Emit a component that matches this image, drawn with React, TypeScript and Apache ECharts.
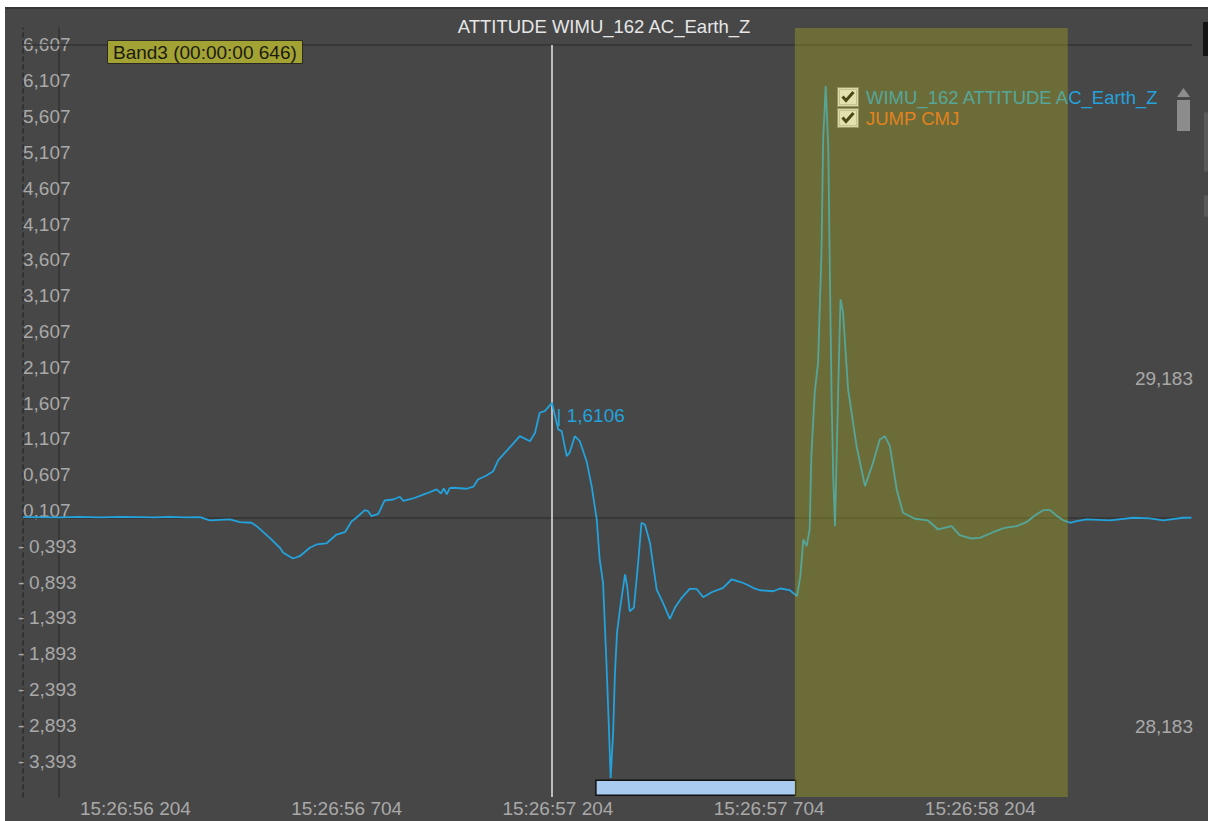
import React, { useEffect, useRef } from 'react';
import * as echarts from 'echarts';

const chartTitle = 'ATTITUDE WIMU_162 AC_Earth_Z';
const seriesName = 'WIMU_162 ATTITUDE AC_Earth_Z';
const jumpName = 'JUMP CMJ';
const clockPrefix = '15:26:';

// sample times (ms within the minute) and values
const sampleTimes = [
  55938, 56025, 56070, 56120, 56170, 56215, 56250, 56286, 56320, 56357,
  56380, 56428, 56451, 56479, 56491, 56522, 56546, 56554, 56577, 56593,
  56617, 56633, 56656, 56680, 56700, 56716, 56727, 56747, 56755, 56763,
  56779, 56794, 56814, 56830, 56838, 56861, 56893, 56917, 56927, 56934,
  56941, 56948, 56956, 56988, 57004, 57015, 57035, 57051, 57063, 57114,
  57138, 57150, 57161, 57173, 57190, 57205, 57213, 57225, 57232, 57244,
  57256, 57272, 57284, 57296, 57303, 57311, 57319, 57325, 57329, 57335,
  57339, 57344, 57351, 57363, 57368, 57374, 57384, 57394, 57402, 57410,
  57422, 57438, 57453, 57469, 57481, 57497, 57516, 57532, 57548, 57568,
  57595, 57615, 57635, 57651, 57666, 57682, 57714, 57730, 57753, 57770,
  57778, 57785, 57793, 57800, 57804, 57812, 57820, 57828, 57832, 57838,
  57844, 57848, 57852, 57856, 57860, 57867, 57873, 57879, 57891, 57911,
  57931, 57950, 57966, 57978, 57990, 58006, 58021, 58049, 58080, 58104,
  58136, 58155, 58183, 58203, 58234, 58262, 58290, 58313, 58333, 58353,
  58369, 58384, 58400, 58416, 58432, 58455, 58511, 58566, 58605, 58637,
  58684, 58704,
];
const sampleValues = [
  0.014, 0.010, 0.017, 0.010, 0.017, 0.014, 0.010, 0.017, 0.010, 0.014,
  -0.032, -0.018, -0.056, -0.064, -0.112, -0.274, -0.413, -0.483, -0.563, -0.531,
  -0.413, -0.367, -0.353, -0.228, -0.196, -0.042, 0.006, 0.112, 0.098, 0.028,
  0.061, 0.247, 0.261, 0.299, 0.243, 0.275, 0.345, 0.401, 0.345, 0.415,
  0.331, 0.420, 0.425, 0.411, 0.439, 0.540, 0.596, 0.656, 0.810, 1.145,
  1.075, 1.193, 1.472, 1.494, 1.6106, 1.239, 1.215, 0.866, 0.918, 1.145,
  1.075, 0.796, 0.447, -0.018, -0.577, -0.902, -2.020, -2.951, -3.626, -2.975,
  -2.183, -1.601, -1.275, -0.786, -0.950, -1.299, -1.251, -0.623, -0.064, -0.088,
  -0.344, -0.996, -1.182, -1.405, -1.251, -1.112, -0.986, -0.986, -1.103, -1.034,
  -0.972, -0.856, -0.888, -0.926, -0.972, -1.006, -1.020, -0.982, -1.006, -1.089,
  -0.810, -0.297, -0.391, -0.158, 0.866, 1.756, 2.175, 3.711, 5.289, 6.034,
  5.196, 3.334, 1.658, 0.541, -0.112, 1.658, 3.054, 2.873, 1.797, 1.006,
  0.447, 0.774, 1.099, 1.145, 1.006, 0.401, 0.075, -0.008, -0.032, -0.158,
  -0.112, -0.237, -0.284, -0.274, -0.196, -0.134, -0.112, -0.056, 0.038, 0.112,
  0.112, 0.038, -0.028, -0.064, -0.042, -0.018, -0.032, 0.006, -0.004, -0.032,
  0.006, 0.006,
];

const cursorTime = 57190;
const xTickValues = [56204, 56704, 57204, 57704, 58204];
const yTickValues = [
  6.607, 6.107, 5.607, 5.107, 4.607, 4.107, 3.607, 3.107, 2.607, 2.107, 1.607,
  1.107, 0.607, 0.107, -0.393, -0.893, -1.393, -1.893, -2.393, -2.893, -3.393,
];
const rightTickValues = [29.183, 28.183];
const xRange = [55938, 58705];
const yRange = [-3.893, 6.844];
const rightRange = [27.982, 30.187];
const bandRange = [57765, 58411];
const phaseRange = [57294, 57767];
const phaseLevels = [-3.868, -3.658];
const topLineValue = 6.607;

const FONT = '"Liberation Sans", Arial, sans-serif';
const LABEL_GRAY = '#a9a9a9';
const LINE_BLUE = '#23a2dc';
const JUMP_ORANGE = '#ff6a1c';

const checkboxSvg =
  "<svg xmlns='http://www.w3.org/2000/svg' width='22' height='20' viewBox='0 0 22 20'>" +
  "<rect x='0.5' y='0.5' width='21' height='19' fill='#f2f2f2' stroke='#8a8a8a'/>" +
  "<rect x='2.5' y='2.5' width='17' height='15' fill='#ffffff' stroke='#cfcfcf'/>" +
  "<path d='M5.5 9.5 L9 13.5 L16.5 5' stroke='#111' stroke-width='3' fill='none'/>" +
  '</svg>';
const checkboxIcon = 'image://data:image/svg+xml;charset=utf-8,' + encodeURIComponent(checkboxSvg);

function fmtTime(v: number): string {
  const sec = Math.floor(v / 1000);
  const ms = Math.round(v - sec * 1000);
  return `${clockPrefix}${sec} ${String(ms).padStart(3, '0')}`;
}

export default function App() {
  const ref = useRef<HTMLDivElement>(null);
  useEffect(() => {
    if (!ref.current) return;
    const chart = echarts.init(ref.current, undefined, { renderer: 'svg' });
    const lineData = sampleTimes.map((t, i) => [t, sampleValues[i]]);
    const cursorIdx = sampleTimes.indexOf(cursorTime);
    const cursorValue = sampleValues[cursorIdx];
    const bandMs = bandRange[1] - bandRange[0];
    const bandLabel = `Band3 (00:00:00 ${String(bandMs).padStart(3, '0')})`;

    const option: any = {
      animation: false,
      backgroundColor: '#474747',
      title: [
        {
          text: chartTitle,
          left: 'center',
          top: 12,
          textStyle: { color: '#e6e6e6', fontSize: 18.5, fontWeight: 'normal', fontFamily: FONT },
        },
        {
          text: bandLabel,
          left: 107,
          top: 40,
          backgroundColor: '#a3a234',
          borderColor: '#2a2a22',
          borderWidth: 1,
          padding: [3, 6, 2, 6],
          textStyle: { color: '#1b1b10', fontSize: 19, fontWeight: 'normal', fontFamily: FONT },
        },
      ],
      legend: {
        orient: 'vertical',
        left: 837,
        top: 87,
        padding: 0,
        itemWidth: 22,
        itemHeight: 20,
        itemGap: 1,
        selectedMode: false,
        icon: checkboxIcon,
        textStyle: { fontSize: 18.5, fontFamily: FONT, padding: [0, 0, 0, 2] },
        data: [
          { name: seriesName, icon: checkboxIcon, textStyle: { color: LINE_BLUE } },
          { name: jumpName, icon: checkboxIcon, textStyle: { color: JUMP_ORANGE } },
        ],
      },
      grid: { left: 23, right: 16, top: 28, bottom: 24, containLabel: false, outerBoundsMode: 'none' },
      xAxis: {
        type: 'value',
        min: xRange[0],
        max: xRange[1],
        axisLine: { show: false },
        axisTick: { show: false },
        splitLine: { show: false },
        axisLabel: {
          customValues: xTickValues,
          formatter: (v: number) => fmtTime(v),
          color: LABEL_GRAY,
          fontSize: 19,
          fontFamily: FONT,
          margin: 2,
        },
      },
      yAxis: [
        {
          type: 'value',
          position: 'left',
          min: yRange[0],
          max: yRange[1],
          axisLine: { show: true, lineStyle: { color: '#2c2c2c', width: 1.5, type: [4, 4] } },
          axisTick: { show: false },
          splitLine: { show: false },
          axisLabel: {
            inside: true,
            margin: -5,
            customValues: yTickValues,
            formatter: (v: number) => {
              const s = Math.abs(v).toFixed(3).replace('.', ',');
              return v < 0 ? `{neg|-}{num|${s}}` : `{pad|}{num|${s}}`;
            },
            rich: {
              neg: { width: 11, color: LABEL_GRAY, fontSize: 19, fontFamily: FONT },
              pad: { width: 5 },
              num: { color: LABEL_GRAY, fontSize: 19, fontFamily: FONT },
            },
          },
        },
        {
          type: 'value',
          position: 'right',
          min: rightRange[0],
          max: rightRange[1],
          axisLine: { show: false },
          axisTick: { show: false },
          splitLine: { show: false },
          axisLabel: {
            inside: true,
            margin: -1,
            customValues: rightTickValues,
            formatter: (v: number) => v.toFixed(3).replace('.', ','),
            color: LABEL_GRAY,
            fontSize: 19,
            fontFamily: FONT,
          },
        },
        {
          type: 'value',
          position: 'left',
          offset: -36,
          axisLine: { show: true, lineStyle: { color: '#323232', width: 1.5 } },
          axisTick: { show: false },
          splitLine: { show: false },
          axisLabel: { show: false },
        },
      ],
      series: [
        {
          name: seriesName,
          type: 'line',
          yAxisIndex: 0,
          data: lineData,
          showSymbol: false,
          symbol: 'none',
          color: LINE_BLUE,
          lineStyle: { color: LINE_BLUE, width: 1.8 },
          z: 2,
          markLine: {
            silent: true,
            symbol: 'none',
            z: 1,
            label: { show: false },
            data: [
              { yAxis: 0, lineStyle: { color: '#333333', width: 1.5, type: 'solid' } },
              { yAxis: topLineValue, lineStyle: { color: '#333333', width: 1.5, type: 'solid' } },
              [
                { coord: [cursorTime, topLineValue], lineStyle: { color: '#e4e4e4', width: 1.5, type: 'solid' } },
                { coord: [cursorTime, yRange[0]] },
              ],
            ],
          },
          markPoint: {
            silent: true,
            symbol: 'circle',
            symbolSize: 1,
            itemStyle: { color: 'rgba(0,0,0,0)' },
            label: {
              show: true,
              position: 'right',
              distance: 4,
              offset: [0, 13],
              color: LINE_BLUE,
              fontSize: 19,
              fontFamily: FONT,
              formatter: () => `| ${cursorValue.toFixed(4).replace('.', ',')}`,
            },
            data: [{ coord: [cursorTime, cursorValue] }],
          },
          markArea: {
            silent: true,
            z: 3,
            itemStyle: { color: '#a9cbef', borderColor: '#111111', borderWidth: 1.5 },
            data: [[{ xAxis: phaseRange[0], yAxis: phaseLevels[1] }, { xAxis: phaseRange[1], yAxis: phaseLevels[0] }]],
          },
        },
        {
          name: jumpName,
          type: 'line',
          yAxisIndex: 1,
          data: [],
          color: JUMP_ORANGE,
          lineStyle: { color: JUMP_ORANGE },
          markArea: {
            silent: true,
            z: 10,
            itemStyle: { color: 'rgba(176,176,34,0.36)', borderWidth: 0 },
            data: [[{ xAxis: bandRange[0] }, { xAxis: bandRange[1] }]],
          },
        },
      ],
      graphic: [
        { type: 'rect', z: 100, shape: { x: 0, y: 0, width: 1208, height: 7 }, style: { fill: '#ffffff' } },
        { type: 'rect', z: 100, shape: { x: 0, y: 0, width: 5, height: 821 }, style: { fill: '#ffffff' } },
        { type: 'rect', z: 99, shape: { x: 5, y: 7, width: 1203, height: 2 }, style: { fill: '#363636' } },
        { type: 'polygon', z: 50, shape: { points: [[1177, 97], [1190, 97], [1183.5, 88]] }, style: { fill: '#8c8c8c' } },
        { type: 'rect', z: 50, shape: { x: 1177, y: 100, width: 13, height: 31 }, style: { fill: '#8c8c8c' } },
        { type: 'rect', z: 50, shape: { x: 1203, y: 22, width: 5, height: 34 }, style: { fill: '#141414' } },
        { type: 'rect', z: 50, shape: { x: 1204, y: 112, width: 4, height: 60, r: 2 }, style: { fill: '#5a5a5a' } },
        { type: 'rect', z: 50, shape: { x: 1204, y: 195, width: 4, height: 22, r: 2 }, style: { fill: '#5a5a5a' } },
      ],
    };
    chart.setOption(option);
    return () => chart.dispose();
  }, []);
  return (
    <div
      ref={ref}
      style={{ position: 'fixed', left: 0, top: 0, width: 1208, height: 821 }}
    />
  );
}
